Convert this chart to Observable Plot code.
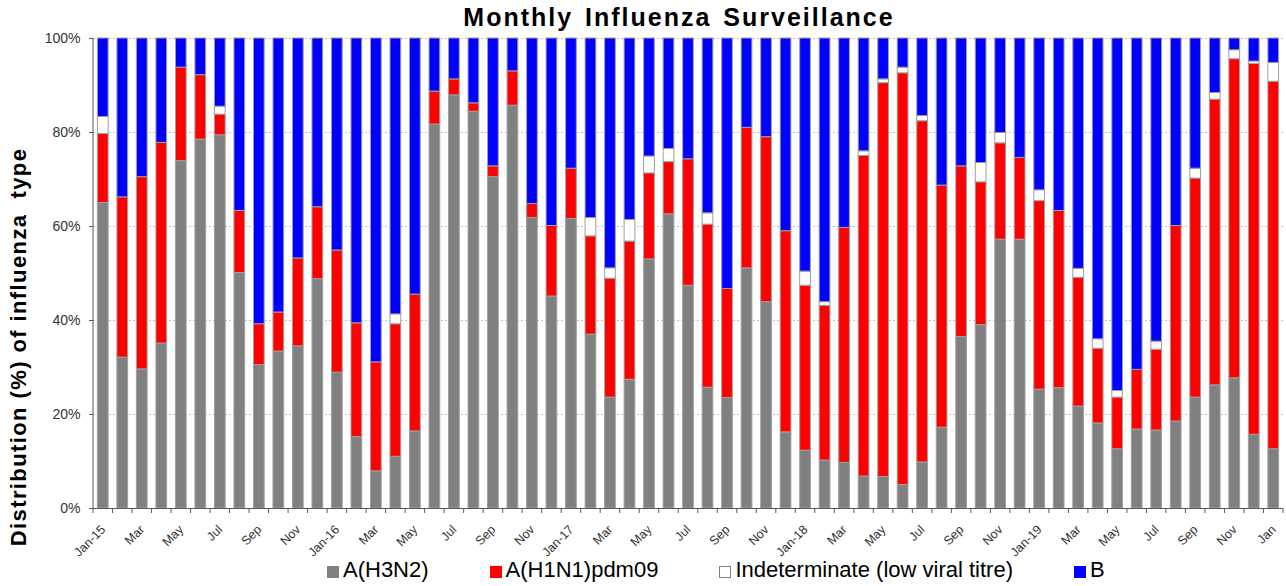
<!DOCTYPE html>
<html><head><meta charset="utf-8">
<script src="https://cdn.jsdelivr.net/npm/d3@7"></script>
<script src="https://cdn.jsdelivr.net/npm/@observablehq/plot@0.6"></script>
<style>
body{margin:0;background:#fff;font-family:"Liberation Sans",Arial,sans-serif;}
#wrap{position:relative;width:1286px;height:586px;overflow:hidden;}
#title{position:absolute;left:72px;right:0;top:5px;text-align:center;font-weight:bold;font-size:25px;line-height:25px;letter-spacing:2px;word-spacing:3px;color:#000;z-index:2;}
#chart{position:absolute;left:0;top:30px;z-index:1;}
#legend{position:absolute;left:327px;top:559px;display:flex;font-size:22px;line-height:22px;color:#000;white-space:nowrap;z-index:2;}
.item{display:flex;align-items:flex-start;margin-right:61px;}
.sw{width:12px;height:12px;margin-top:7px;margin-right:4px;box-sizing:border-box;}
</style></head><body>
<div id="wrap">
<div id="title">Monthly Influenza Surveillance</div>
<div id="chart"></div>
<div id="legend"></div>
</div>
<script>
const months = ["Jan-15","Feb-15","Mar-15","Apr-15","May-15","Jun-15","Jul-15","Aug-15","Sep-15","Oct-15","Nov-15","Dec-15",
"Jan-16","Feb-16","Mar-16","Apr-16","May-16","Jun-16","Jul-16","Aug-16","Sep-16","Oct-16","Nov-16","Dec-16",
"Jan-17","Feb-17","Mar-17","Apr-17","May-17","Jun-17","Jul-17","Aug-17","Sep-17","Oct-17","Nov-17","Dec-17",
"Jan-18","Feb-18","Mar-18","Apr-18","May-18","Jun-18","Jul-18","Aug-18","Sep-18","Oct-18","Nov-18","Dec-18",
"Jan-19","Feb-19","Mar-19","Apr-19","May-19","Jun-19","Jul-19","Aug-19","Sep-19","Oct-19","Nov-19","Dec-19",
"Jan-20"];
const tickLabels = ["Jan-15","","Mar","","May","","Jul","","Sep","","Nov","",
"Jan-16","","Mar","","May","","Jul","","Sep","","Nov","",
"Jan-17","","Mar","","May","","Jul","","Sep","","Nov","",
"Jan-18","","Mar","","May","","Jul","","Sep","","Nov","",
"Jan-19","","Mar","","May","","Jul","","Sep","","Nov","",
"Jan"];
const h3n2 = [65.0,32.1,29.6,35.1,73.9,78.5,79.4,50.1,30.5,33.4,34.5,48.8,
28.9,15.2,7.9,11.0,16.4,81.7,87.9,84.4,70.5,85.7,61.8,45.1,
61.6,37.0,23.6,27.4,53.0,62.6,47.4,25.7,23.5,51.1,43.9,16.2,
12.3,10.2,9.7,6.8,6.7,5.0,9.8,17.2,36.5,39.0,57.2,57.2,
25.3,25.6,21.7,18.1,12.6,16.8,16.6,18.5,23.6,26.2,27.7,15.7,
12.6];
const h1n1 = [14.7,34.1,40.9,42.7,19.9,13.7,4.4,13.2,8.7,8.3,18.7,15.3,
26.0,24.2,23.2,28.2,29.1,7.0,3.4,1.8,2.3,7.3,3.0,15.0,
10.7,20.9,25.3,29.4,18.3,11.1,26.9,34.7,23.2,29.9,35.1,42.8,
35.1,32.9,50.0,68.2,83.8,87.6,72.6,51.5,36.3,30.4,20.5,17.4,
40.1,37.7,27.4,15.9,11.0,12.7,17.2,41.6,46.6,60.8,67.9,78.9,
78.2];
const indet = [3.6,0,0,0,0,0,1.7,0,0,0,0,0,
0,0,0,2.1,0,0,0,0,0,0,0,0,
0,3.9,2.2,4.6,3.6,2.8,0,2.4,0,0,0,0,
3.0,0.8,0,1.0,0.8,1.2,1.1,0,0,4.1,2.2,0,
2.3,0,1.9,2.0,1.4,0,1.7,0,2.1,1.4,1.9,0.5,
4.0];
const fluB = [16.7,33.8,29.5,22.2,6.2,7.8,14.5,36.7,60.8,58.3,46.8,35.9,
45.1,60.6,68.9,58.7,54.5,11.3,8.7,13.8,27.2,7.0,35.2,39.9,
27.7,38.2,48.9,38.6,25.1,23.5,25.7,37.2,53.3,19.0,21.0,41.0,
49.6,56.1,40.3,24.0,8.7,6.2,16.5,31.3,27.2,26.5,20.1,25.4,
32.3,36.7,49.0,64.0,75.0,70.5,64.5,39.9,27.7,11.6,2.5,4.9,
5.2];
const series = ["A(H3N2)","A(H1N1)pdm09","Indeterminate (low viral titre)","B"];
const colors = ["#808080","#ff0000","#ffffff","#0000ff"];
const yTicks = [0,20,40,60,80,100];
const yTitle = "Distribution (%) of influenza  type";

const rows = [];
months.forEach((m,i)=>{
  [h3n2,h1n1,indet,fluB].forEach((arr,k)=>{
    if (arr[i] > 0) rows.push({month:m, type:series[k], value:arr[i]});
  });
});

const chart = Plot.plot({
  width:1286, height:556,
  marginTop:8, marginBottom:78, marginLeft:93, marginRight:3,
  style:{fontFamily:"'Liberation Sans', Arial, sans-serif", fontSize:"14px", color:"#333", background:"transparent"},
  x:{domain:months, paddingInner:0.45, paddingOuter:0.225, label:null},
  y:{domain:[0,100], label:null},
  color:{domain:series, range:colors},
  marks:[
    Plot.gridY(yTicks, {stroke:"#c4c4c4", strokeOpacity:1, strokeDasharray:"2,2"}),
    Plot.barY(rows, {x:"month", y:"value", fill:"type", stroke:"#a0a0a0", strokeWidth:1}),
    Plot.axisY(yTicks, {tickFormat:d=>d+"%", tickSize:4, tickPadding:9, fontSize:14, stroke:"#595959"}),
    Plot.axisX({tickFormat:d=>tickLabels[months.indexOf(d)], tickRotate:-45, tickSize:0, tickPadding:17, dy:2, fontSize:12.5}),
    Plot.ruleY([0], {stroke:"#595959"})
  ]
});
document.getElementById("chart").appendChild(chart);

// axis line and boundary ticks using the chart's own scales
const xs = chart.scale("x"), ys = chart.scale("y");
const svg = d3.select(chart);
const y0 = ys.apply(0), y100 = ys.apply(100);
const half = (xs.step - xs.bandwidth)/2;
const bounds = months.map(m => xs.apply(m) - half);
bounds.push(bounds[bounds.length-1] + xs.step);
const g = svg.append("g").attr("stroke","#595959").attr("stroke-width",1);
g.append("line").attr("x1",bounds[0]).attr("x2",bounds[0]).attr("y1",y0).attr("y2",y100);
bounds.forEach(b => g.append("line").attr("x1",b).attr("x2",b).attr("y1",y0).attr("y2",y0+5));
svg.append("text").attr("transform",`translate(26,${317}) rotate(-90)`)
  .attr("text-anchor","middle").attr("font-weight","bold").attr("font-size",22)
  .attr("letter-spacing","1.4px").attr("fill","#000")
  .text(yTitle);

const leg = d3.select("#legend");
series.forEach((s,k)=>{
  const it = leg.append("div").attr("class","item");
  it.append("div").attr("class","sw").style("background",colors[k]).style("border", k===2 ? "1px solid #808080" : "none");
  it.append("span").text(s);
});
</script>
</body></html>
